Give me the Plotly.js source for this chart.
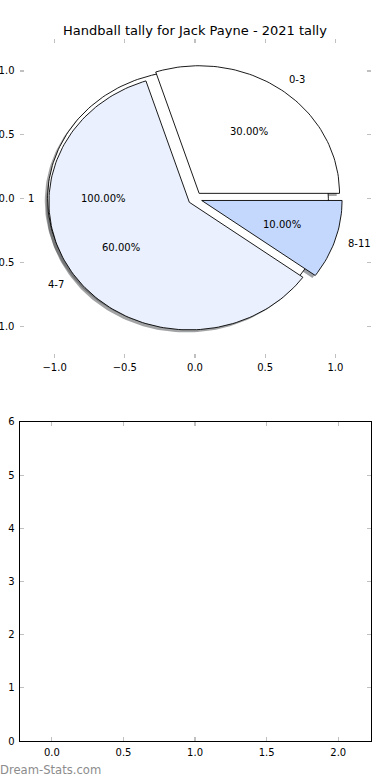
<!DOCTYPE html>
<html>
<head>
<meta charset="utf-8">
<script src="https://cdn.plot.ly/plotly-3.0.1.min.js"></script>
<style>html,body{margin:0;padding:0;background:#fff;}#chart{width:390px;height:780px;}</style>
</head>
<body>
<div id="chart"></div>
<script>
// ---- data ----
const chartTitle = 'Handball tally for Jack Payne - 2021 tally';
const sliceLabels = ['0-3', '4-7', '8-11'];
const sliceValues = [3, 6, 1];
const sliceColors = ['#ffffff', '#eaf0fd', '#c4d7fd'];
const sliceExplode = [0.05, 0.05, 0.05];
const backLabels = ['1'];
const backValues = [1];
const backColors = ['#ffffff'];
const backExplode = [0.05];
const topTicks = [-1.0, -0.5, 0.0, 0.5, 1.0];
const bottomXTicks = [0.0, 0.5, 1.0, 1.5, 2.0];
const bottomYTicks = [0, 1, 2, 3, 4, 5, 6];
const watermark = 'Dream-Stats.com';

function hexToRgb(h) {
  h = h.replace('#', '');
  return [parseInt(h.substr(0,2),16), parseInt(h.substr(2,2),16), parseInt(h.substr(4,2),16)];
}

function buildPie(values, explode) {
  const total = values.reduce((a, b) => a + b, 0);
  let start = 0;
  return values.map((v, i) => {
    const frac = v / total;
    const t1 = start, t2 = start + frac * 360;
    start = t2;
    const mid = (t1 + t2) / 2 * Math.PI / 180;
    const cx = explode[i] * Math.cos(mid), cy = explode[i] * Math.sin(mid);
    return {frac, t1, t2, mid, cx, cy};
  });
}

function wedgePath(w, dx, dy) {
  const xs = [], ys = [];
  const full = Math.abs(w.t2 - w.t1 - 360) < 1e-9;
  const n = Math.max(8, Math.round((w.t2 - w.t1) / 360 * 240));
  if (!full) { xs.push(w.cx + dx); ys.push(w.cy + dy); }
  for (let k = 0; k <= n; k++) {
    const a = (w.t1 + (w.t2 - w.t1) * k / n) * Math.PI / 180;
    xs.push(w.cx + Math.cos(a) + dx);
    ys.push(w.cy + Math.sin(a) + dy);
  }
  xs.push(xs[0]); ys.push(ys[0]);
  return {xs, ys};
}

const backW = buildPie(backValues, backExplode);
const mainW = buildPie(sliceValues, sliceExplode);

const traces = [];
const annotations = [];

function addShadows(ws, cols) {
  ws.forEach((w, i) => {
    const p = wedgePath(w, -0.02, -0.02);
    const c = hexToRgb(cols[i]).map(v => Math.round(v * 0.3));
    traces.push({type: 'scatter', mode: 'lines', x: p.xs, y: p.ys, fill: 'toself',
      fillcolor: `rgba(${c[0]},${c[1]},${c[2]},0.5)`, line: {width: 0, color: 'rgba(0,0,0,0)'},
      hoverinfo: 'skip', showlegend: false, xaxis: 'x', yaxis: 'y'});
  });
}
function addWedges(ws, cols) {
  ws.forEach((w, i) => {
    const p = wedgePath(w, 0, 0);
    traces.push({type: 'scatter', mode: 'lines', x: p.xs, y: p.ys, fill: 'toself',
      fillcolor: cols[i], line: {width: 0.9, color: '#000000'},
      hoverinfo: 'skip', showlegend: false, xaxis: 'x', yaxis: 'y'});
  });
}
function addTexts(ws, labs) {
  ws.forEach((w, i) => {
    const lx = w.cx + 1.1 * Math.cos(w.mid), ly = w.cy + 1.1 * Math.sin(w.mid);
    const leftSide = lx > 0;
    annotations.push({x: lx, y: ly, xref: 'x', yref: 'y', text: labs[i], showarrow: false,
      borderpad: 0, xshift: leftSide ? -2 : 1,
      xanchor: leftSide ? 'left' : 'right', yanchor: 'middle', font: {size: 10, color: '#000'}});
    const px = w.cx + 0.6 * Math.cos(w.mid), py = w.cy + 0.6 * Math.sin(w.mid);
    annotations.push({x: px, y: py, xref: 'x', yref: 'y', text: (w.frac * 100).toFixed(2) + '%',
      borderpad: 0, showarrow: false, xanchor: 'center', yanchor: 'middle', font: {size: 10, color: '#000'}});
  });
}

addShadows(backW, backColors);
addShadows(mainW, sliceColors);
addWedges(backW, backColors);
addWedges(mainW, sliceColors);
addTexts(backW, backLabels);
addTexts(mainW, sliceLabels);

// empty trace for lower axes
traces.push({type: 'scatter', mode: 'markers', x: [], y: [], xaxis: 'x2', yaxis: 'y2', showlegend: false});

annotations.push({x: 0, y: (780 - 770) / 780, xref: 'paper', yref: 'paper', text: watermark, showarrow: false,
  borderpad: 0, xshift: -1, xanchor: 'left', yanchor: 'middle', font: {size: 11.6, color: '#8c8c8c'}});

const tickStyle = {ticks: 'inside', ticklen: 4, tickwidth: 1.2, tickcolor: '#c0c0c0',
  showgrid: false, zeroline: false, tickfont: {size: 10, color: '#000'}};

const layout = {
  width: 390, height: 780,
  margin: {l: 0, r: 0, t: 0, b: 0},
  paper_bgcolor: '#ffffff', plot_bgcolor: 'rgba(0,0,0,0)',
  font: {family: 'DejaVu Sans', size: 10, color: '#000'},
  showlegend: false,
  title: {text: chartTitle, x: 0.5, xanchor: 'center', y: 1 - 30 / 780, yanchor: 'middle',
    yref: 'container', font: {size: 13, color: '#000', family: 'DejaVu Sans'}},
  xaxis: Object.assign({}, tickStyle, {domain: [0.05, 0.95], anchor: 'y', range: [-1.25, 1.25],
    tickvals: topTicks, ticktext: topTicks.map(v => (v < 0 ? '\u2212' : '') + Math.abs(v).toFixed(1)),
    showline: false, mirror: 'ticks', ticklabelstandoff: 2}),
  yaxis: Object.assign({}, tickStyle, {domain: [0.541, 0.95], anchor: 'x', range: [-1.25, 1.25],
    tickvals: topTicks, ticktext: topTicks.map(v => (v < 0 ? '\u2212' : '') + Math.abs(v).toFixed(1)),
    showline: false, mirror: 'ticks', ticklabelstandoff: 4}),
  xaxis2: Object.assign({}, tickStyle, {domain: [0.05, 0.95], anchor: 'y2', range: [-0.226, 2.225],
    tickvals: bottomXTicks, ticktext: bottomXTicks.map(v => v.toFixed(1)),
    showline: true, linecolor: '#000', linewidth: 1, mirror: 'all', ticklabelstandoff: 2}),
  yaxis2: Object.assign({}, tickStyle, {domain: [0.05, 0.459], anchor: 'x2', range: [0, 6],
    tickvals: bottomYTicks, ticktext: bottomYTicks.map(v => String(v)),
    showline: true, linecolor: '#000', linewidth: 1, mirror: 'all', ticklabelstandoff: 2}),
  annotations: annotations
};

Plotly.newPlot('chart', traces, layout, {staticPlot: true, displayModeBar: false});
</script>
</body>
</html>
